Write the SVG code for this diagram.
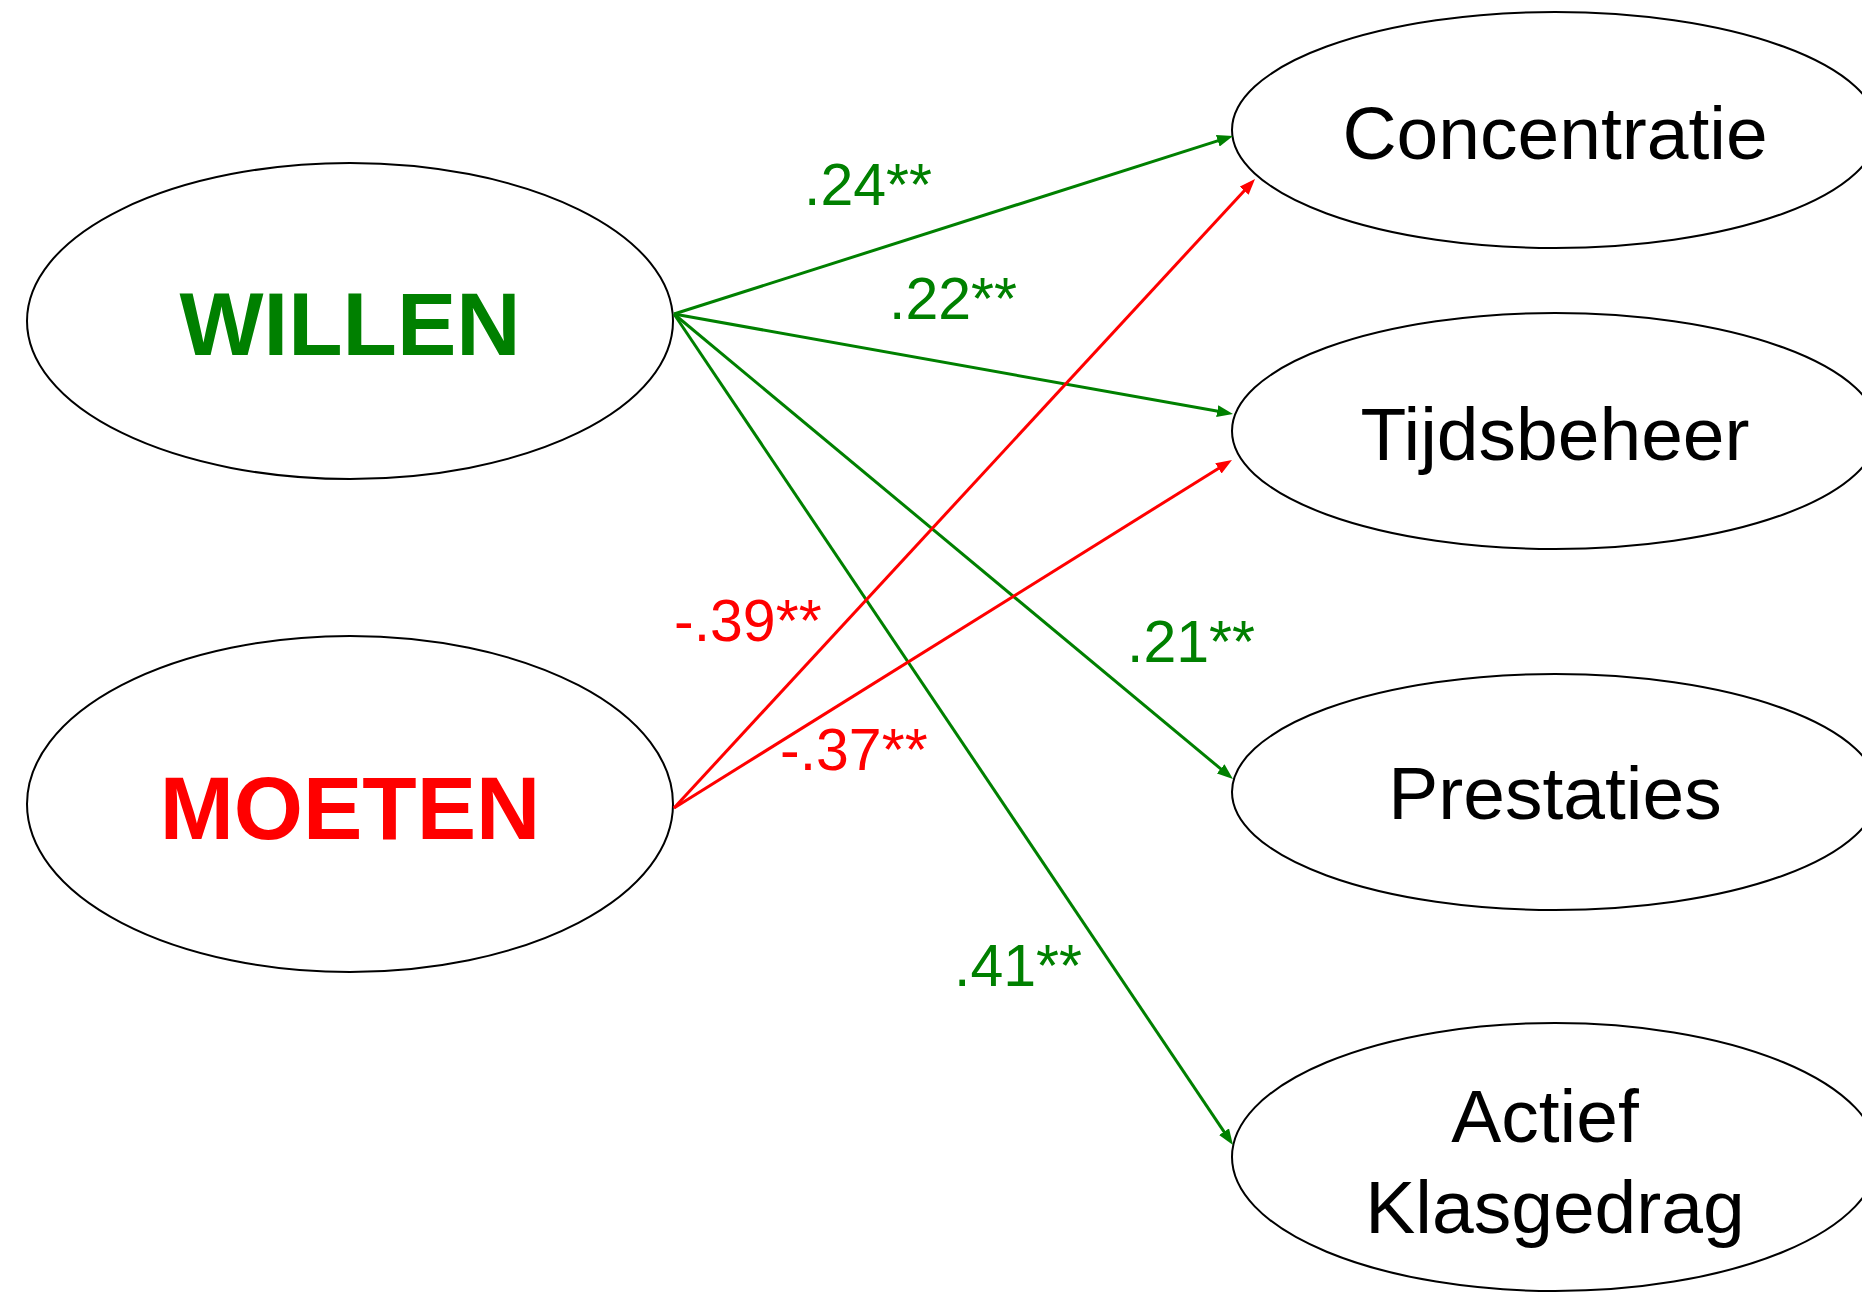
<svg xmlns="http://www.w3.org/2000/svg" width="1862" height="1293" viewBox="0 0 1862 1293">
<style>
.node{fill:#fff;stroke:#000;stroke-width:2}
.lbl{font-family:"Liberation Sans",Arial,sans-serif;font-size:75px;fill:#000;text-anchor:middle}
.big{font-family:"Liberation Sans",Arial,sans-serif;font-size:89px;font-weight:bold;text-anchor:middle}
.coef{font-family:"Liberation Sans",Arial,sans-serif;font-size:59px}
.g{fill:#008000}
.r{fill:#ff0000}
.eg{stroke:#008000;stroke-width:3;fill:none;marker-end:url(#ag)}
.er{stroke:#ff0000;stroke-width:3;fill:none;marker-end:url(#ar)}
</style>
<defs>
<marker id="ag" markerUnits="userSpaceOnUse" markerWidth="16" markerHeight="12" refX="8" refY="6" orient="auto"><path d="M0,0 L16,6 L0,12 z" fill="#008000"/></marker>
<marker id="ar" markerUnits="userSpaceOnUse" markerWidth="16" markerHeight="12" refX="8" refY="6" orient="auto"><path d="M0,0 L16,6 L0,12 z" fill="#ff0000"/></marker>
</defs>
<rect width="1862" height="1293" fill="#fff"/>
<g id="willen"><ellipse class="node" cx="350" cy="321" rx="323" ry="158"/><text class="big g" x="350" y="355">WILLEN</text></g>
<g id="moeten"><ellipse class="node" cx="350" cy="804" rx="323" ry="168"/><text class="big r" x="350" y="839">MOETEN</text></g>
<g id="concentratie"><ellipse class="node" cx="1555" cy="130" rx="323" ry="118"/><text class="lbl" x="1555" y="159">Concentratie</text></g>
<g id="tijdsbeheer"><ellipse class="node" cx="1555" cy="431" rx="323" ry="118"/><text class="lbl" x="1555" y="460">Tijdsbeheer</text></g>
<g id="prestaties"><ellipse class="node" cx="1555" cy="792" rx="323" ry="118"/><text class="lbl" x="1555" y="819">Prestaties</text></g>
<g id="actief"><ellipse class="node" cx="1555" cy="1157" rx="323" ry="134"/><text class="lbl" x="1545" y="1142">Actief</text><text class="lbl" x="1555" y="1233">Klasgedrag</text></g>
<g id="connectors">
<line class="eg" x1="674" y1="314" x2="1225.4" y2="138.4"/>
<line class="eg" x1="674" y1="314" x2="1225.1" y2="412.6"/>
<line class="eg" x1="674" y1="314" x2="1226.8" y2="773.9"/>
<line class="eg" x1="674" y1="314" x2="1228.5" y2="1138.4"/>
<line class="er" x1="674" y1="808" x2="1249.6" y2="184.9"/>
<line class="er" x1="674" y1="808" x2="1225.2" y2="464.2"/>
<text class="coef g" x="804" y="205">.24**</text>
<text class="coef g" x="889" y="319">.22**</text>
<text class="coef r" x="674" y="641">-.39**</text>
<text class="coef r" x="780" y="770">-.37**</text>
<text class="coef g" x="1127" y="662">.21**</text>
<text class="coef g" x="954" y="986">.41**</text>
</g>
</svg>
